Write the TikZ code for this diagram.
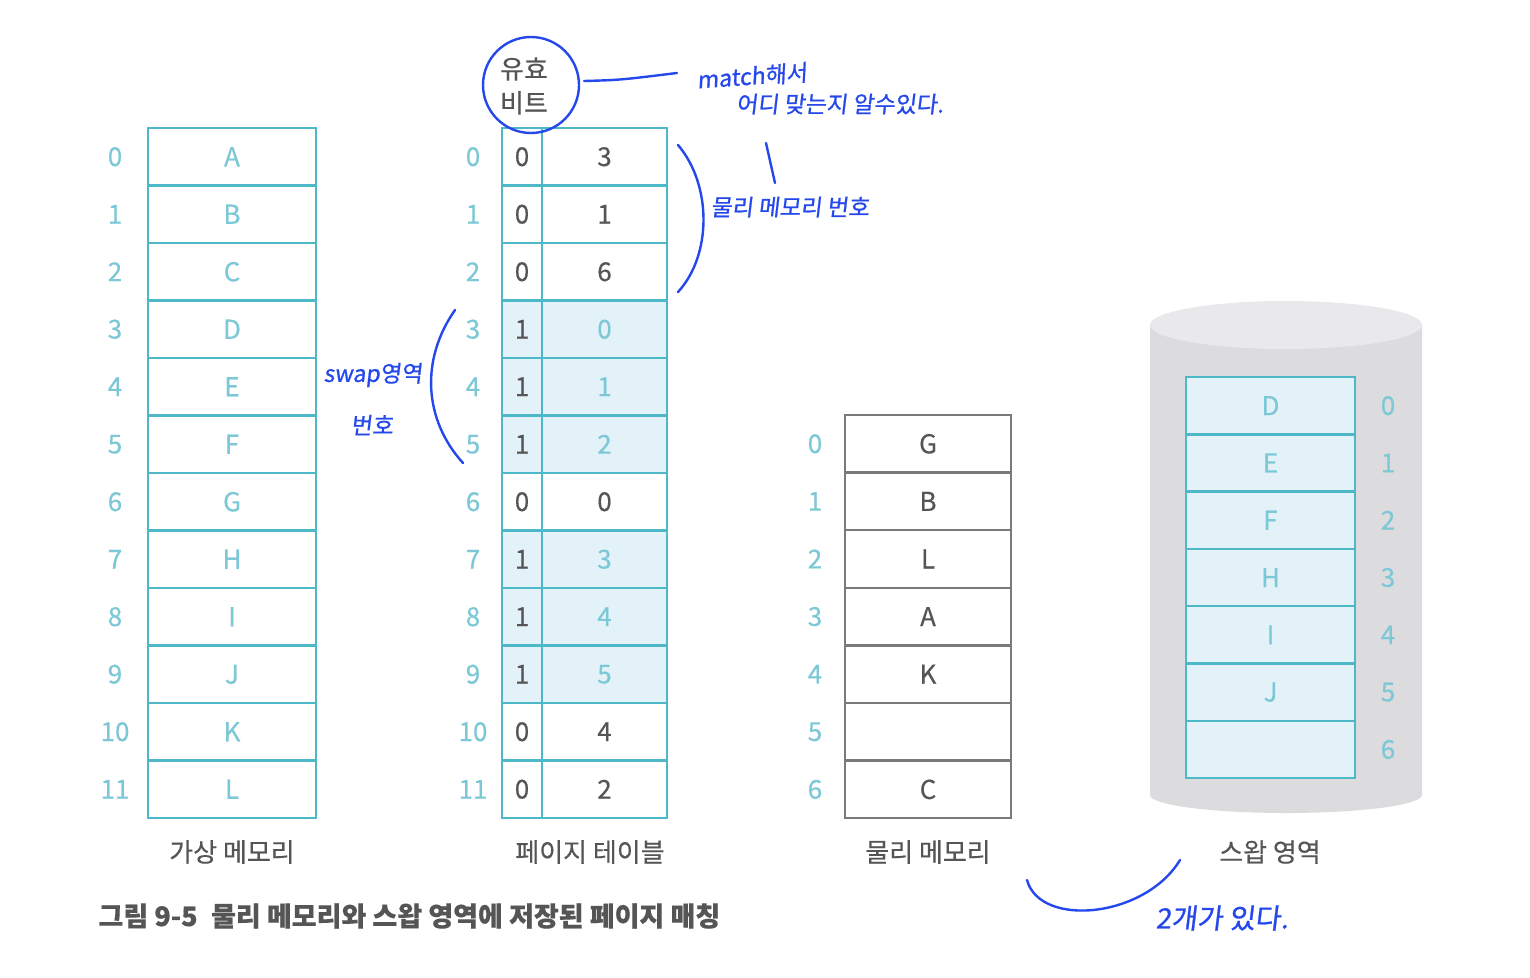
\documentclass[tikz,border=0pt]{standalone}
\usepackage{fontspec}
\setmainfont[FakeBold=0.4]{Noto Sans CJK KR}
\newfontfamily\hand[FakeSlant=0.12,FakeBold=0.8]{Noto Sans CJK KR}
\definecolor{tealb}{HTML}{4DB8C8}
\definecolor{tealt}{HTML}{7CC8D6}
\definecolor{shade}{HTML}{E2F2F8}
\definecolor{dgray}{HTML}{555555}
\definecolor{pgray}{HTML}{7A7A7A}
\definecolor{inkblue}{HTML}{2548EC}
\definecolor{cylbody}{HTML}{DCDCDF}
\definecolor{cyltop}{HTML}{E9E9EB}
\begin{document}
\begin{tikzpicture}[x=1pt,y=-1pt,
  cell/.style={draw=tealb, line width=2.4pt, inner sep=0pt, minimum height=57.5pt, font=\fontsize{26}{28}\selectfont},
  vmcell/.style={cell, minimum width=168pt, text=tealt},
  vbit/.style={cell, minimum width=40pt, text=dgray},
  frm/.style={cell, minimum width=125pt, text=dgray},
  pmcell/.style={cell, draw=pgray, minimum width=166pt, minimum height=57.6pt, text=dgray},
  swcell/.style={cell, fill=shade, minimum width=169pt, minimum height=57.3pt, text=tealt},
  idx/.style={text=tealt, font=\fontsize{26}{28}\selectfont},
  lbl/.style={text=dgray, font=\fontsize{26}{28}\selectfont},
  ink/.style={draw=inkblue, line width=2.4pt, line cap=round},
  inktext/.style={text=inkblue, font=\hand\fontsize{23}{26}\selectfont}
]
\useasboundingbox (0,0) rectangle (1530,977);
\fill[white] (0,0) rectangle (1530,977);

% virtual memory
\foreach \t [count=\n from 0] in {A,B,C,D,E,F,G,H,I,J,K,L} {
  \node[vmcell] (vm\n) at (232,{128+57.5*(\n+0.5)}) {\t};
  \node[idx] (vmi\n) at (115,{128+57.5*(\n+0.5)}) {\n};
}
\node[lbl] (vmlbl) at (232,852) {가상 메모리};

% page table
\foreach \v/\f [count=\n from 0] in {0/3,0/1,0/6,1/0,1/1,1/2,0/0,1/3,1/4,1/5,0/4,0/2} {
  \ifnum\v=1
    \node[vbit, fill=shade] (pv\n) at (522,{128+57.5*(\n+0.5)}) {\v};
    \node[frm, fill=shade, text=tealt] (pf\n) at (604.5,{128+57.5*(\n+0.5)}) {\f};
  \else
    \node[vbit] (pv\n) at (522,{128+57.5*(\n+0.5)}) {\v};
    \node[frm] (pf\n) at (604.5,{128+57.5*(\n+0.5)}) {\f};
  \fi
  \node[idx] (pti\n) at (473,{128+57.5*(\n+0.5)}) {\n};
}
\node[lbl] (ptlbl) at (590,852) {페이지 테이블};

% physical memory
\foreach \t [count=\n from 0] in {G,B,L,A,K,{},C} {
  \node[pmcell] (pm\n) at (928,{415+57.6*(\n+0.5)}) {\t};
  \node[idx] (pmi\n) at (815,{415+57.6*(\n+0.5)}) {\n};
}
\node[lbl] (pmlbl) at (928,852) {물리 메모리};

% swap cylinder
\fill[cylbody] (1150,325) -- (1150,795) arc[start angle=180, end angle=0, x radius=136, y radius=18] -- (1422,325) -- cycle;
\fill[cyltop] (1286,325) ellipse[x radius=136, y radius=24];
\foreach \t [count=\n from 0] in {D,E,F,H,I,J,{}} {
  \node[swcell] (sw\n) at (1270.5,{377+57.3*(\n+0.5)}) {\t};
  \node[idx] (swi\n) at (1388,{377+57.3*(\n+0.5)}) {\n};
}
\node[lbl] (swlbl) at (1270,852) {스왑 영역};

% caption
\node[anchor=west, text=dgray, font=\bfseries\fontsize{27}{29}\selectfont] (cap) at (95,916) {그림 9-5\enspace 물리 메모리와 스왑 영역에 저장된 페이지 매칭};

% valid bit label
\node[lbl, align=center, font=\fontsize{26}{34}\selectfont] (vb) at (524,86) {유효\\비트};
\draw[ink] (531,85) circle[radius=48];
\coordinate (c1) at (584,81);
\coordinate (c2) at (677,73);
\draw[ink] (c1) .. controls (620,80) .. (c2);
\node[inktext, rotate=4] (t1) at (752,76) {match해서};
\node[inktext] (t2) at (840,104) {어디 맞는지 알수있다.};
\coordinate (s1) at (766,143);
\coordinate (s2) at (775,183);
\draw[ink] (s1) -- (s2);
\node[inktext] (t3) at (790,207) {물리 메모리 번호};
\coordinate (b1) at (678,145);
\coordinate (b2) at (678,292);
\draw[ink] (b1) .. controls (712,185) and (712,255) .. (b2);

% swap number annotation
\coordinate (b3) at (455,310);
\coordinate (b4) at (463,463);
\draw[ink] (b3) .. controls (420,360) and (424,420) .. (b4);
\node[inktext] (t4) at (373,375) {swap영역};
\node[inktext] (t5) at (372,425) {번호};

% bottom annotation
\coordinate (b5) at (1027,880);
\coordinate (b6) at (1180,860);
\draw[ink] (b5) .. controls (1040,928) and (1145,918) .. (b6);
\node[inktext, font=\hand\fontsize{28}{30}\selectfont] (t6) at (1222,918) {2개가 있다.};
\end{tikzpicture}
\end{document}
